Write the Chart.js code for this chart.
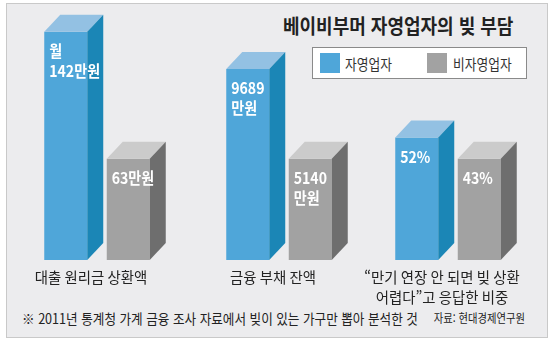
<!DOCTYPE html>
<html lang="ko">
<head>
<meta charset="utf-8">
<script src="https://cdn.jsdelivr.net/npm/chart.js@4"></script>
<style>
  body { margin: 0; width: 551px; height: 343px; overflow: hidden; position: relative; background: #fff;
         font-family: "Noto Sans CJK KR", "Noto Sans", sans-serif; }
  #panel { position: absolute; left: 6px; top: 3px; width: 542px; height: 335px; box-sizing: border-box;
           border: 1px solid #c9c9c9; background: #ececee; }
  canvas { position: absolute; top: 0; }
  .txt { position: absolute; white-space: nowrap; transform-origin: 0 50%; line-height: 1; }
  #title { left: 283px; top: 16px; font-size: 20px; font-weight: 700; color: #222; transform: scaleX(0.9); }
  #legend { position: absolute; left: 312px; top: 47px; width: 215px; height: 32px; box-sizing: border-box;
            border: 1px solid #8a8a8a; background: #fff; }
  .swatch { position: absolute; top: 53px; width: 20px; height: 20px; }
  .leg { top: 56px; font-size: 15px; color: #333; transform: scaleX(0.85); }
  #note { left: 22px; top: 311px; font-size: 14px; color: #222; transform: scaleX(0.9); }
  #source { right: 26px; top: 312px; font-size: 12px; color: #222; transform-origin: 100% 50%; transform: scaleX(0.86); }
</style>
</head>
<body>
<div id="panel"></div>
<div id="title" class="txt">베이비부머 자영업자의 빚 부담</div>
<div id="legend"></div>
<div class="swatch" style="left:320px;background:#4fa6d9"></div>
<div class="txt leg" style="left:345px">자영업자</div>
<div class="swatch" style="left:427px;background:#a2a2a2"></div>
<div class="txt leg" style="left:453px">비자영업자</div>
<div id="note" class="txt">※ 2011년 통계청 가계 금융 조사 자료에서 빚이 있는 가구만 뽑아 분석한 것</div>
<div id="source" class="txt">자료: 현대경제연구원</div>

<script>
const categories = [
  ['대출 원리금 상환액'],
  ['금융 부채 잔액'],
  ['“만기 연장 안 되면 빚 상환', '어렵다”고 응답한 비중']
];
const seriesNames = ['자영업자', '비자영업자'];
const selfEmployed = [142, 9689, 52];      // 만원, 만원, %
const nonSelfEmployed = [63, 5140, 43];

// each group gets its own canvas and y scale (the units differ)
const groupCenters = [97, 279, 447.5];
const canvasW = 180, canvasH = 343;
const depthX = 16, depthY = 17;
const faceColors = [
  { front: '#4fa6d9', top: '#93c1e3', side: '#1b86b6' },
  { front: '#a2a2a2', top: '#cbcbcb', side: '#6e6e6e' }
];

function valueLines(g, s, v) {
  if (g === 0) return s === 0 ? ['월', v + '만원'] : [v + '만원'];
  if (g === 1) return [String(v), '만원'];
  return [v + '%'];
}

function drawText(ctx, str, x, y, font, color, sx, align) {
  ctx.save();
  ctx.font = font;
  ctx.fillStyle = color;
  ctx.textAlign = align;
  ctx.textBaseline = 'middle';
  ctx.translate(x, y);
  ctx.scale(sx, 1);
  ctx.fillText(str, 0, 0);
  ctx.restore();
}

function poly(ctx, pts, color) {
  ctx.beginPath();
  ctx.moveTo(pts[0][0], pts[0][1]);
  for (let i = 1; i < pts.length; i++) ctx.lineTo(pts[i][0], pts[i][1]);
  ctx.closePath();
  ctx.fillStyle = color;
  ctx.fill();
}

// top and side faces + labels drawn over the plain bars
const blockPlugin = {
  id: 'block3d',
  afterDatasetsDraw(chart, args, opts) {
    const ctx = chart.ctx;
    const g = opts.group;
    chart.data.datasets.forEach((ds, i) => {
      const c = faceColors[i];
      chart.getDatasetMeta(i).data.forEach((bar, j) => {
        const p = bar.getProps(['x', 'y', 'base', 'width'], true);
        const l = p.x - p.width / 2, r = p.x + p.width / 2;
        poly(ctx, [[l, p.y], [l + depthX, p.y - depthY], [r + depthX, p.y - depthY], [r, p.y]], c.top);
        poly(ctx, [[r, p.y], [r + depthX, p.y - depthY], [r + depthX, p.base - depthY], [r, p.base]], c.side);
        valueLines(g, i, ds.data[j]).forEach((line, k) => {
          drawText(ctx, line, l + 5, p.y + 19 + k * 20, '700 16px "Noto Sans CJK KR"', '#fff', 0.88, 'left');
        });
      });
    });
    const area = chart.chartArea;
    const cx = (area.left + area.right) / 2 - 6;
    [].concat(chart.data.labels[0]).forEach((line, k) => {
      drawText(ctx, line, cx, area.bottom + 17 + k * 20, '15px "Noto Sans CJK KR"', '#222', 0.96, 'center');
    });
  }
};

groupCenters.forEach((center, g) => {
  const canvas = document.createElement('canvas');
  canvas.width = canvasW;
  canvas.height = canvasH;
  canvas.style.left = (center - canvasW / 2) + 'px';
  document.body.appendChild(canvas);

  new Chart(canvas.getContext('2d'), {
    type: 'bar',
    data: {
      labels: [categories[g]],
      datasets: [
        { label: seriesNames[0], data: [selfEmployed[g]], backgroundColor: faceColors[0].front },
        { label: seriesNames[1], data: [nonSelfEmployed[g]], backgroundColor: faceColors[1].front }
      ]
    },
    options: {
      responsive: false,
      animation: false,
      events: [],
      layout: { padding: { left: 27.5, right: 27.5, top: 29, bottom: 83 } },
      datasets: { bar: { categoryPercentage: 1, barPercentage: 0.688 } },
      scales: {
        x: { display: false },
        y: { display: false, min: 0, max: nonSelfEmployed[g] * 2.28 }
      },
      plugins: {
        legend: { display: false },
        tooltip: { enabled: false },
        block3d: { group: g }
      }
    },
    plugins: [blockPlugin]
  });
});
</script>
</body>
</html>
